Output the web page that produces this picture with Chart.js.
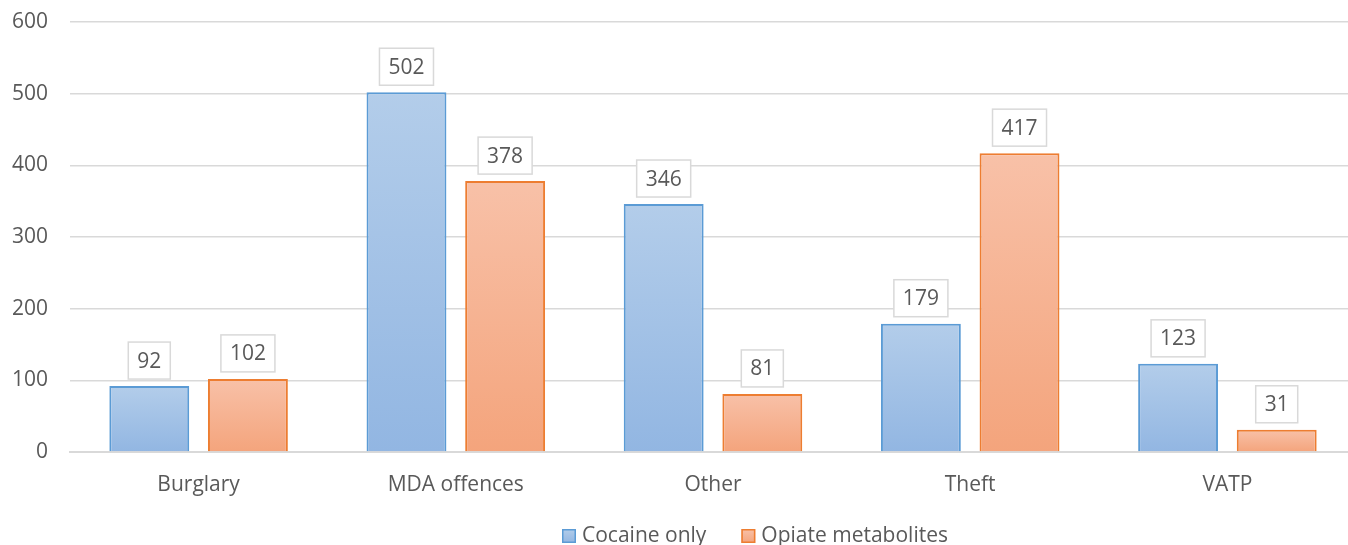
<!DOCTYPE html>
<html>
<head>
<meta charset="utf-8">
<script src="https://cdn.jsdelivr.net/npm/chart.js@4/dist/chart.umd.min.js"></script>
<style>
  html, body { margin: 0; padding: 0; background: #ffffff; overflow: hidden; }
  #wrap { width: 1356px; height: 555px; position: relative; }
</style>
</head>
<body>
<div id="wrap"><canvas id="c" width="1356" height="555"></canvas></div>
<script>
const categories = ["Burglary", "MDA offences", "Other", "Theft", "VATP"];
const cocaineOnly = [92, 502, 346, 179, 123];
const opiateMetabolites = [102, 378, 81, 417, 31];
const seriesNames = ["Cocaine only", "Opiate metabolites"];
const yTicks = [0, 100, 200, 300, 400, 500, 600];

const FONT = "'Open Sans', 'Noto Sans', sans-serif";
const TEXT = "#595959";
const FS = 21;

const fills = [
  { top: '#b3cdea', bottom: '#92b6e2', flat: '#a3c1e6' },
  { top: '#f8c1a8', bottom: '#f4a47c', flat: '#f6b292' }
];

function gradFill(f) {
  return function (ctx) {
    const chart = ctx.chart;
    if (ctx.dataIndex === undefined || !chart.scales || !chart.scales.y) return f.flat;
    const ys = chart.scales.y;
    const y0 = ys.getPixelForValue(ctx.raw);
    const y1 = ys.getPixelForValue(0);
    if (!isFinite(y0) || !isFinite(y1) || y0 === y1) return f.flat;
    const g = chart.ctx.createLinearGradient(0, y0, 0, y1);
    g.addColorStop(0, f.top);
    g.addColorStop(1, f.bottom);
    return g;
  };
}

const labelBoxPlugin = {
  id: 'labelBoxes',
  afterDatasetsDraw(chart) {
    const ctx = chart.ctx;
    ctx.save();
    ctx.font = FS + "px " + FONT;
    ctx.textAlign = 'center';
    ctx.textBaseline = 'middle';
    chart.data.datasets.forEach((ds, di) => {
      const meta = chart.getDatasetMeta(di);
      meta.data.forEach((el, i) => {
        const txt = String(ds.data[i]);
        const w = ctx.measureText(txt).width + 18;
        const h = 37;
        const x = el.x - w / 2;
        const yb = el.y - 7;
        ctx.fillStyle = '#ffffff';
        ctx.fillRect(x, yb - h, w, h);
        ctx.lineWidth = 1.5;
        ctx.strokeStyle = '#d9d9d9';
        ctx.strokeRect(x, yb - h, w, h);
        ctx.fillStyle = TEXT;
        ctx.fillText(txt, el.x, yb - h / 2 + 1);
      });
    });
    ctx.restore();
  }
};

const legendPlugin = {
  id: 'customLegend',
  afterDraw(chart) {
    const ctx = chart.ctx;
    ctx.save();
    ctx.font = FS + "px " + FONT;
    ctx.textBaseline = 'middle';
    ctx.textAlign = 'left';
    const cy = 536;
    let x = 562;
    chart.data.datasets.forEach((ds, di) => {
      const f = fills[di];
      const g = ctx.createLinearGradient(0, cy - 7, 0, cy + 7);
      g.addColorStop(0, f.top);
      g.addColorStop(1, f.bottom);
      ctx.fillStyle = g;
      ctx.fillRect(x, cy - 7, 14, 14);
      ctx.lineWidth = 1.5;
      ctx.strokeStyle = ds.borderColor;
      ctx.strokeRect(x + 0.75, cy - 6.25, 12.5, 12.5);
      ctx.fillStyle = TEXT;
      ctx.fillText(ds.label, x + 20, cy);
      x += 20 + ctx.measureText(ds.label).width + 35;
    });
    ctx.restore();
  }
};

new Chart(document.getElementById('c'), {
  type: 'bar',
  data: {
    labels: categories,
    datasets: [
      {
        label: seriesNames[0],
        data: cocaineOnly,
        backgroundColor: gradFill(fills[0]),
        borderColor: '#5b9bd5',
        borderWidth: 2,
        categoryPercentage: 0.767,
        barPercentage: 0.81
      },
      {
        label: seriesNames[1],
        data: opiateMetabolites,
        backgroundColor: gradFill(fills[1]),
        borderColor: '#ed7d31',
        borderWidth: 2,
        categoryPercentage: 0.767,
        barPercentage: 0.81
      }
    ]
  },
  options: {
    responsive: false,
    animation: false,
    layout: { padding: { top: 22, left: 0, right: 0, bottom: 43 } },
    plugins: {
      tooltip: { enabled: false },
      legend: { display: false }
    },
    scales: {
      x: {
        grid: { display: false, drawTicks: false },
        border: { display: true, color: '#d9d9d9', width: 2 },
        ticks: { font: { family: FONT, size: FS }, color: TEXT, padding: 20 },
        afterFit(s) { s.height = 60; }
      },
      y: {
        min: 0,
        max: 600,
        afterBuildTicks(s) { s.ticks = yTicks.map(v => ({ value: v })); },
        grid: { color: '#d9d9d9', lineWidth: 1.5, drawTicks: false },
        border: { display: false },
        ticks: { font: { family: FONT, size: FS }, color: TEXT, padding: 22 },
        afterFit(s) { s.width = 70; s.paddingTop = 0; s.paddingBottom = 0; }
      }
    }
  },
  plugins: [labelBoxPlugin, legendPlugin]
});
</script>
</body>
</html>
